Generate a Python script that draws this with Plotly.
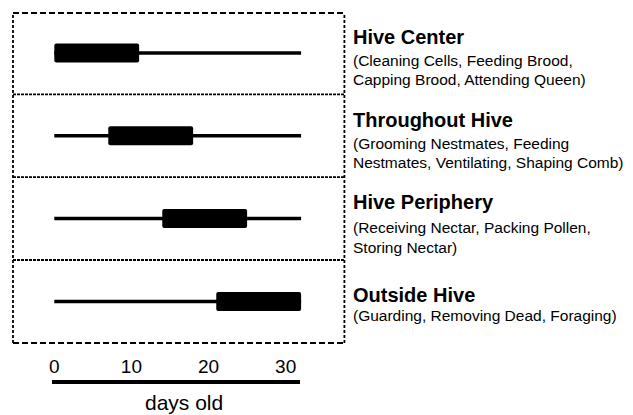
import plotly.graph_objects as go

# ---- data ----
groups = ["Hive Center", "Throughout Hive", "Hive Periphery", "Outside Hive"]
descriptions = [
    ["(Cleaning Cells, Feeding Brood,", "Capping Brood, Attending Queen)"],
    ["(Grooming Nestmates, Feeding", "Nestmates, Ventilating, Shaping Comb)"],
    ["(Receiving Nectar, Packing Pollen,", "Storing Nectar)"],
    ["(Guarding, Removing Dead, Foraging)"],
]
line_start = [0, 0, 0, 0]
line_end = [32, 32, 32, 32]
box_start = [0, 7, 14, 21]
box_end = [11, 18, 25, 32]
tick_vals = [0, 10, 20, 30]
tick_text = ["0", "10", "20", "30"]
axis_title = "days old"

# ---- layout helpers (page pixel -> paper); page body has an 8px margin ----
OFF = 8
W, H = 633 - OFF, 415 - OFF
def px(x):
    return (x - OFF) / W
def py(y):
    return 1 - (y - OFF) / H

FONT = "Liberation Sans, Arial, Helvetica, sans-serif"
rows = list(range(len(groups)))

fig = go.Figure()

# whisker lines
for i in rows:
    fig.add_trace(go.Scatter(
        x=[line_start[i], line_end[i]], y=[i, i], mode="lines",
        line=dict(color="black", width=3.5), showlegend=False, hoverinfo="skip"))

# boxes
fig.add_trace(go.Bar(
    orientation="h", y=rows,
    x=[e - s for s, e in zip(box_start, box_end)], base=box_start,
    width=0.23, marker=dict(color="black", line=dict(width=0)),
    showlegend=False, hoverinfo="skip"))

# invisible trace so the scale axis is drawn
fig.add_trace(go.Scatter(
    x=tick_vals, y=[0] * len(tick_vals), xaxis="x2", yaxis="y2", mode="markers",
    marker=dict(opacity=0), showlegend=False, hoverinfo="skip"))

fig.update_layout(
    width=W, height=H,
    margin=dict(l=0, r=0, t=0, b=0),
    paper_bgcolor="white", plot_bgcolor="white",
    barcornerradius=2,
    font=dict(family=FONT, color="black"),
    xaxis=dict(domain=[px(10), px(343)], range=[(10 - 51.5) / 7.75, (343 - 51.5) / 7.75],
               visible=False, fixedrange=True),
    yaxis=dict(domain=[py(343), py(13)], range=[(343 - 53) / 82.8, (13 - 53) / 82.8],
               visible=False, fixedrange=True),
    xaxis2=dict(anchor="y2", domain=[px(49), px(298)],
                range=[(49 - 51.5) / 7.75, (298 - 51.5) / 7.75],
                side="top", showline=True, linecolor="black", linewidth=3.5,
                tickvals=tick_vals, ticktext=tick_text, ticks="",
                tickfont=dict(size=19, family=FONT, color="black"),
                showgrid=False, zeroline=False, fixedrange=True),
    yaxis2=dict(domain=[0, py(384)], range=[-1, 1], visible=False, fixedrange=True),
)

# outer dashed frame
frame = [
    dict(x0=0, x1=1, y0=1, y1=1, dash="6px,3px"),
    dict(x0=0, x1=1, y0=0, y1=0, dash="6px,3px"),
    dict(x0=0, x1=0, y0=0, y1=1, dash="3px,2px"),
    dict(x0=1, x1=1, y0=0, y1=1, dash="3px,2px"),
]
for f in frame:
    fig.add_shape(type="line", xref="x domain", yref="y domain",
                  x0=f["x0"], x1=f["x1"], y0=f["y0"], y1=f["y1"],
                  line=dict(color="black", width=1.8, dash=f["dash"]))
# row dividers
for i in rows[:-1]:
    fig.add_shape(type="line", xref="x domain", yref="y",
                  x0=0, x1=1, y0=i + 0.5, y1=i + 0.5,
                  line=dict(color="black", width=1.8, dash="3px,1px"))

# right-hand labels
title_y = [36.5, 120, 202, 295]
sub_y = [[60.5, 79], [143.5, 162.5], [227.5, 247.5], [315]]
for i in rows:
    fig.add_annotation(x=px(350), y=py(title_y[i]), xref="paper", yref="paper",
                       xanchor="left", yanchor="middle", showarrow=False,
                       text="<b>" + groups[i] + "</b>",
                       font=dict(size=20, family=FONT, color="black"))
    for j, line in enumerate(descriptions[i]):
        fig.add_annotation(x=px(350), y=py(sub_y[i][j]), xref="paper", yref="paper",
                           xanchor="left", yanchor="middle", showarrow=False,
                           text=line, font=dict(size=15.5, family=FONT, color="black"))

# axis title
fig.add_annotation(x=px(182), y=py(402), xref="paper", yref="paper",
                   xanchor="center", yanchor="middle", showarrow=False,
                   text=axis_title, font=dict(size=21, family=FONT, color="black"))

fig.write_html("out.html")
